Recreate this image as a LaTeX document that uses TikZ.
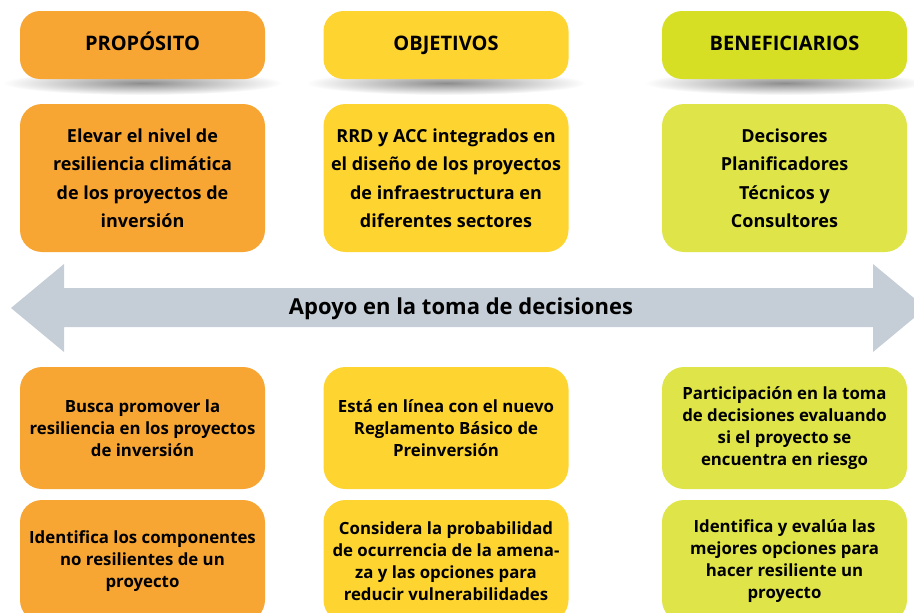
\documentclass[tikz,border=0pt]{standalone}
\usepackage{fontspec}
\setmainfont{Open Sans}
\usetikzlibrary{positioning}
\definecolor{proporange}{RGB}{247,166,52}
\definecolor{objyellow}{RGB}{254,213,48}
\definecolor{benegreen}{RGB}{214,223,35}
\definecolor{benelight}{RGB}{223,228,72}
\definecolor{arrowgray}{RGB}{197,206,214}

\tikzset{
  headbox/.style={rectangle, rounded corners=20pt, minimum width=245pt, minimum height=68pt, inner sep=0pt, text height=15pt, text depth=5pt, align=center, font=\fontsize{20}{22}\selectfont\bfseries},
  mainbox/.style={rectangle, rounded corners=22pt, minimum width=245pt, minimum height=148pt, inner sep=0pt, align=center, font=\fontsize{18}{28.5}\selectfont\bfseries},
  notebox/.style={rectangle, rounded corners=22pt, minimum width=245pt, minimum height=122pt, inner sep=0pt, align=center, font=\fontsize{16.8}{22}\selectfont\bfseries},
  boxshadow/.style={inner color=black!45, outer color=white},
}

\begin{document}
\begin{tikzpicture}[x=1pt, y=-1pt]
\useasboundingbox (0,0) rectangle (914,613);
\clip (0,0) rectangle (914,613);

% Shadows under the headers
\shade[boxshadow] (142.5,83) ellipse (140pt and 12pt);
\shade[boxshadow] (446,83) ellipse (140pt and 12pt);
\shade[boxshadow] (784.5,83) ellipse (140pt and 12pt);

% Headers
\node[headbox, fill=proporange] (proposito) at (142.5,45) {PROPÓSITO};
\node[headbox, fill=objyellow] (objetivos) at (446,45) {OBJETIVOS};
\node[headbox, fill=benegreen] (beneficiarios) at (784.5,45) {BENEFICIARIOS};

% Main boxes
\node[mainbox, fill=proporange] (resiliencia) at (142.5,178) {Elevar el nivel de\\resiliencia climática\\de los proyectos de\\inversión};
\node[mainbox, fill=objyellow] (integrados) at (446,178) {RRD y ACC integrados en\\el diseño de los proyectos\\de infraestructura en\\diferentes sectores};
\node[mainbox, fill=benelight] (actores) at (784.5,178) {Decisores\\Planificadores\\Técnicos y\\Consultores};

% Double arrow
\fill[arrowgray] (11,308) -- (64,264) -- (64,288) -- (873,288) -- (873,264) -- (926,308)
  -- (873,352) -- (873,327) -- (64,327) -- (64,352) -- cycle;
\node[font=\fontsize{22}{24}\selectfont\bfseries] (apoyo) at (461,309) {Apoyo en la toma de decisiones};

% Lower boxes
\node[notebox, fill=proporange] (promover) at (142.5,428) {Busca promover la\\resiliencia en los proyectos\\de inversión};
\node[notebox, fill=objyellow] (reglamento) at (446,428) {Está en línea con el nuevo\\Reglamento Básico de\\Preinversión};
\node[notebox, fill=benelight] (participacion) at (784.5,428) {Participación en la toma\\de decisiones evaluando\\si el proyecto se\\encuentra en riesgo};

\node[notebox, fill=proporange] (componentes) at (142.5,561) {Identifica los componentes\\no resilientes de un\\proyecto};
\node[notebox, fill=objyellow] (probabilidad) at (446,561) {Considera la probabilidad\\de ocurrencia de la amena-\\za y las opciones para\\reducir vulnerabilidades};
\node[notebox, fill=benelight] (opciones) at (784.5,561) {Identifica y evalúa las\\mejores opciones para\\hacer resiliente un\\proyecto};
\end{tikzpicture}
\end{document}
